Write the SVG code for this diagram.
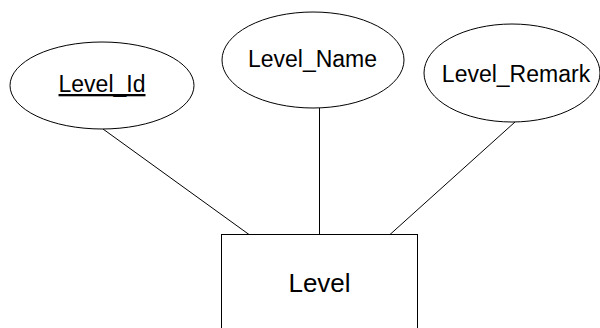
<svg xmlns="http://www.w3.org/2000/svg" width="600" height="328" viewBox="0 0 600 328">
<style>
.shape{fill:#fff;stroke:#000;stroke-width:1}
.conn{stroke:#000;stroke-width:1;fill:none}
text{font-family:"Liberation Sans",Arial,sans-serif;fill:#000;text-anchor:middle}
.attr{font-size:23px}
.ent{font-size:26px}
</style>
<rect width="600" height="328" fill="#fff"/>
<g id="connectors">
<line class="conn" x1="103" y1="129" x2="249" y2="234.5"/>
<line class="conn" x1="319.5" y1="108" x2="319.5" y2="234.5"/>
<line class="conn" x1="515" y1="122" x2="390" y2="234.5"/>
</g>
<g id="level_id">
<ellipse class="shape" cx="102" cy="85.5" rx="92" ry="43.5"/>
<text class="attr" x="102" y="92" text-decoration="underline">Level_Id</text>
</g>
<g id="level_name">
<ellipse class="shape" cx="313" cy="60" rx="91" ry="48"/>
<text class="attr" x="312.5" y="67">Level_Name</text>
</g>
<g id="level_remark">
<ellipse class="shape" cx="512" cy="73" rx="88" ry="49"/>
<text class="attr" x="516" y="82">Level_Remark</text>
</g>
<g id="level">
<rect class="shape" x="221.5" y="234.5" width="196" height="100"/>
<text class="ent" x="319.5" y="292">Level</text>
</g>
</svg>
